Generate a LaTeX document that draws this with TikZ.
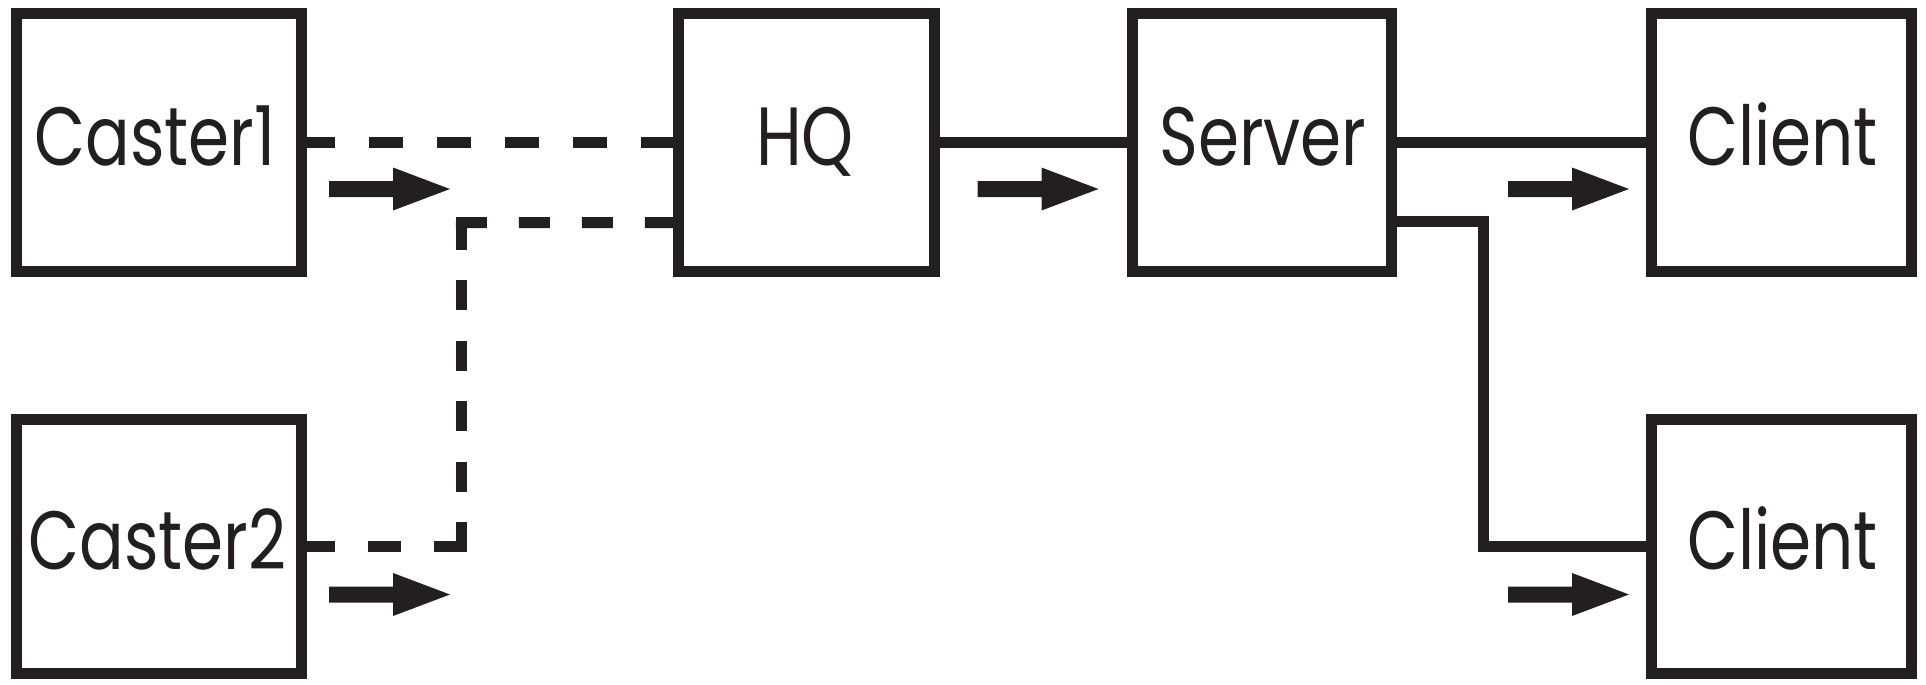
\documentclass[tikz,border=0pt]{standalone}
\usepackage{fontspec}
\setmainfont{Poppins}[FakeStretch=0.8]
\definecolor{inkc}{HTML}{231F20}
\begin{document}
\begin{tikzpicture}[x=0.01cm,y=-0.01cm,
  ink/.style={draw=inkc, line width=0.11cm},
  box/.style={ink, rectangle, outer sep=0pt, inner sep=0pt},
  lbl/.style={anchor=base, inner sep=0pt, text=inkc, font=\fontsize{23.5pt}{26pt}\selectfont},
  wire/.style={ink, line join=miter},
  dwire/.style={wire, dash pattern=on 0.335cm off 0.345cm},
  rwire/.style={ink, line cap=rect},
  blockarrow/.pic={\fill[inkc] (0,-8) -- (64,-8) -- (64,-21.5) -- (121,0) -- (64,21.5) -- (64,8) -- (0,8) -- cycle;}
]
\useasboundingbox (0,0) rectangle (1926,684);
% boxes
\node[box, minimum width=2.84cm, minimum height=2.58cm] (caster1) at (159,142.5) {};
\node[box, minimum width=2.84cm, minimum height=2.54cm] (caster2) at (159,546.5) {};
\node[box, minimum width=2.56cm, minimum height=2.58cm] (hq) at (806.5,142.5) {};
\node[box, minimum width=2.58cm, minimum height=2.58cm] (server) at (1262,142.5) {};
\node[box, minimum width=2.59cm, minimum height=2.58cm] (client1) at (1781.5,142.5) {};
\node[box, minimum width=2.59cm, minimum height=2.54cm] (client2) at (1781.5,546.5) {};
% labels
\node[lbl] (tcaster1) at (155,165) {Caster1};
\node[lbl] (tcaster2) at (157.5,569) {Caster2};
\node[lbl] (thq) at (805,165) {HQ};
\node[lbl] (tserver) at (1263,165) {Server};
\node[lbl] (tclient1) at (1782.5,165) {Client};
\node[lbl] (tclient2) at (1782.5,569) {Client};
% bend points
\coordinate (cornerA) at (461.5,222.5);
\coordinate (bendA) at (461.5,546.5);
\coordinate (bendB) at (1483.5,546.5);
% connectors
\draw[dwire] (caster1.east) -- (hq.west);
\draw[rwire, dash pattern=on 0.20cm off 0.43cm, dash phase=0.55cm] ([yshift=-0.8cm]hq.west) -- (cornerA);
\draw[rwire, dash pattern=on 0.19cm off 0.415cm, dash phase=0.58cm] (cornerA) -- (bendA);
\draw[rwire, dash pattern=on 0.22cm off 0.44cm] (bendA) -- (caster2.east);
\draw[wire] (hq.east) -- (server.west);
\draw[wire] (server.east) -- (client1.west);
\draw[wire] ([yshift=-0.785cm]server.east) -| (bendB) -- (client2.west);
% direction arrows
\pic at (329,189) {blockarrow};
\pic at (329,594.5) {blockarrow};
\pic at (977.5,189) {blockarrow};
\pic at (1508,189) {blockarrow};
\pic at (1508,594.5) {blockarrow};
\end{tikzpicture}
\end{document}
